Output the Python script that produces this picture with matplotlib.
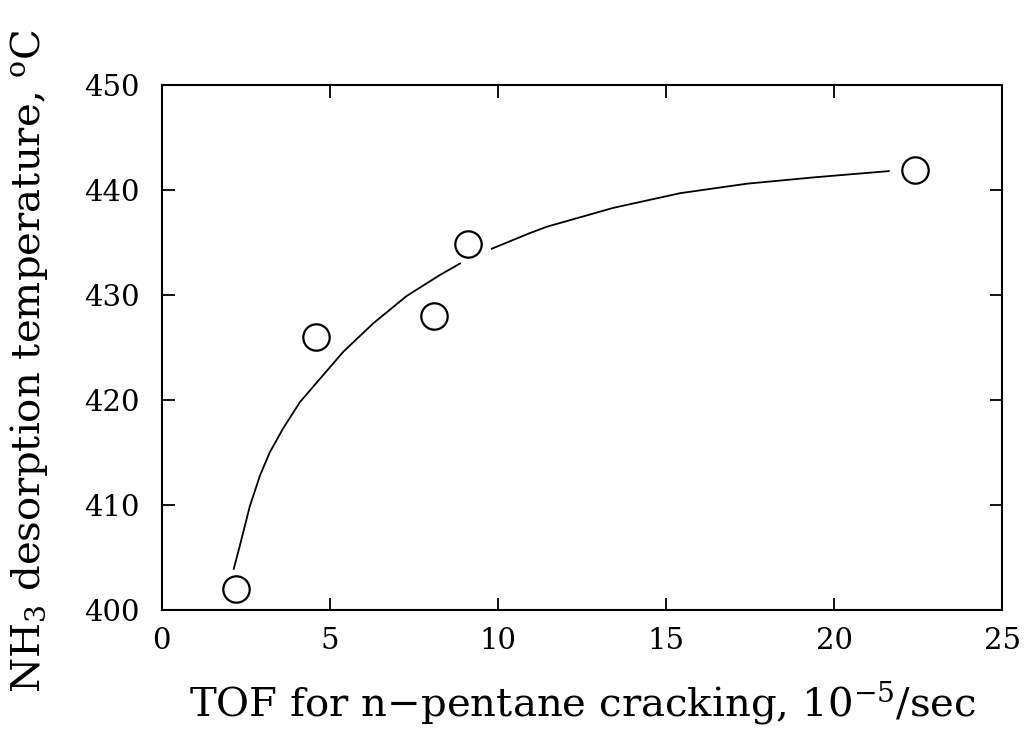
import numpy as np
import matplotlib
matplotlib.use("Agg")
import matplotlib.pyplot as plt

# Measured data points
tof = [2.2, 4.6, 8.1, 9.1, 22.4]
temp = [402.0, 426.0, 428.0, 434.9, 441.9]

# Fitted curve (NaN marks the gap around a marker)
curve_x = [2.14, 2.32, 2.62, 2.92, 3.21, 3.61, 4.11, 4.70, 5.40, 6.29,
           7.28, 8.27, 8.87, np.nan, 9.81, 10.95, 11.45, 13.43, 15.42,
           17.40, 19.38, 21.62]
curve_y = [403.9, 406.1, 409.9, 412.8, 415.0, 417.3, 419.8, 422.0, 424.6,
           427.3, 429.9, 431.9, 433.0, np.nan, 434.4, 435.9, 436.5, 438.3,
           439.7, 440.6, 441.2, 441.8]

xticks = [0, 5, 10, 15, 20, 25]
yticks = [400, 410, 420, 430, 440, 450]

plt.rcParams['font.family'] = ['DejaVu Serif']
plt.rcParams['mathtext.fontset'] = 'dejavuserif'

fig = plt.figure(figsize=(10.24, 7.33), dpi=100)
ax = fig.add_axes([0.158, 0.168, 0.821, 0.716])

ax.plot(curve_x, curve_y, color='black', lw=1.3, zorder=2)
ax.plot(tof, temp, linestyle='none', marker='o', markersize=19,
        markerfacecolor='white', markeredgecolor='black', markeredgewidth=1.6,
        zorder=3)

ax.set_xlim(0, 25)
ax.set_ylim(400, 450)
ax.set_xticks(xticks)
ax.set_yticks(yticks)
ax.tick_params(direction='in', length=9, width=1.3, top=True, right=True,
               labelsize=21)
ax.tick_params(axis='x', pad=12)
ax.tick_params(axis='y', pad=16)
for s in ax.spines.values():
    s.set_linewidth(1.5)

ax.set_xlabel('TOF for n\u2212pentane cracking, 10$^{-5}$/sec', fontsize=29,
              labelpad=18)
ax.set_ylabel('NH$_3$ desorption temperature, $^{\\rm o}$C', fontsize=29)
ax.yaxis.set_label_coords(-0.133, 0.475)

fig.savefig('out.png', dpi=100)
